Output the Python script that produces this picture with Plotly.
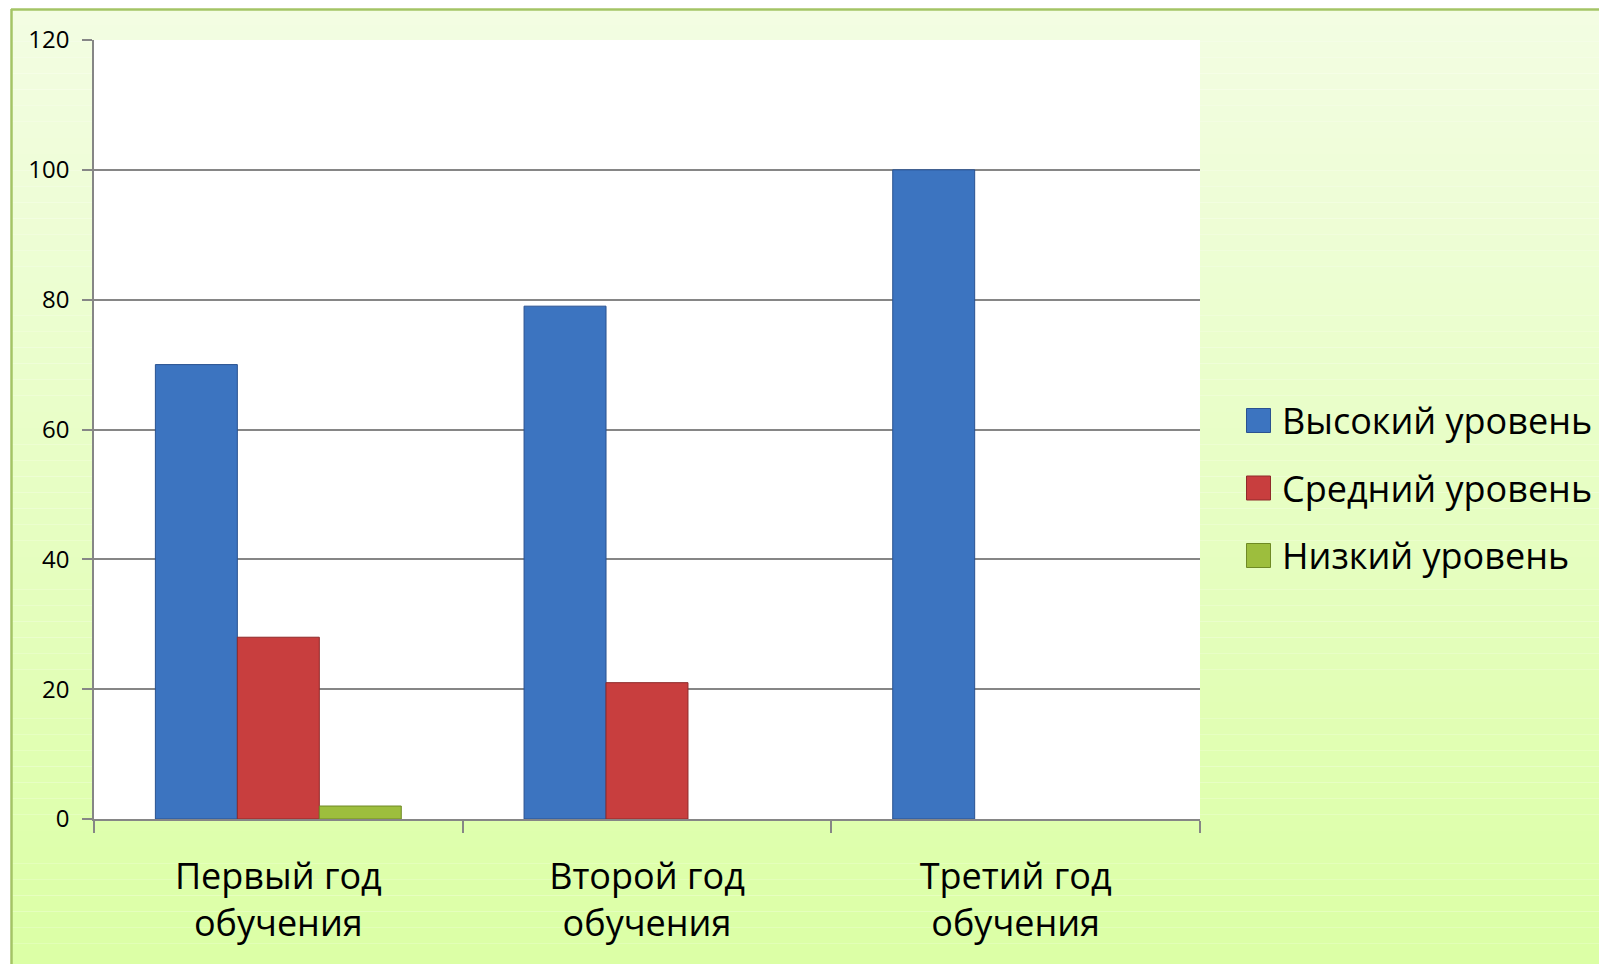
import plotly.graph_objects as go

categories = ["Первый год<br>обучения", "Второй год<br>обучения", "Третий год<br>обучения"]
series_names = ["Высокий уровень", "Средний уровень", "Низкий уровень"]
high = [70, 79, 100]
mid = [28, 21, 0]
low = [2, 0, 0]
y_ticks = [0, 20, 40, 60, 80, 100, 120]

colors = ["#3c74c0", "#c83e3e", "#9dbe3d"]
line_colors = ["#2a5290", "#8f2a2a", "#6f8a25"]

W, H = 1607, 964
OFF = 8  # page body margin offset
# target screen positions of the plot area
SL, SR, ST, SB = 94, 1200, 40, 819
L = SL - OFF
T = ST - OFF
R = W - (SR - OFF)
B = H - (SB - OFF)
PW, PH = W - L - R, H - T - B


def px2x(px):
    # px given in screen coordinates
    return (px - OFF - L) / PW


def px2y(py):
    return (H - B - (py - OFF)) / PH


fig = go.Figure()
for name, vals, c, lc in zip(series_names, [high, mid, low], colors, line_colors):
    fig.add_trace(go.Bar(
        x=categories, y=vals, name=name,
        marker=dict(color=c, line=dict(color=lc, width=[1 if v else 0 for v in vals])),
        showlegend=False,
    ))

shapes = []
# gradient background strips
top_rgb = (243, 253, 227)
bot_rgb = (219, 255, 164)
N = 60
y_top, y_bot = 9, H + 12
for i in range(N):
    t0 = i / N
    t1 = (i + 1) / N
    tm = (t0 + t1) / 2
    col = tuple(round(a + (b - a) * tm) for a, b in zip(top_rgb, bot_rgb))
    shapes.append(dict(
        type="rect", xref="paper", yref="paper",
        x0=px2x(11), x1=px2x(W + 12),
        y0=px2y(y_top + (y_bot - y_top) * t1), y1=px2y(y_top + (y_bot - y_top) * t0),
        fillcolor="rgb(%d,%d,%d)" % col, line=dict(width=0), layer="below",
    ))
# white plot area
shapes.append(dict(type="rect", xref="paper", yref="paper", x0=0, x1=1, y0=0, y1=1,
                   fillcolor="white", line=dict(width=0), layer="below"))
# outer border (top & left visible)
shapes.append(dict(type="line", xref="paper", yref="paper", x0=px2x(11), x1=px2x(W + 12),
                   y0=px2y(9.5), y1=px2y(9.5), line=dict(color="#a4c466", width=2.5), layer="below"))
shapes.append(dict(type="line", xref="paper", yref="paper", x0=px2x(11.5), x1=px2x(11.5),
                   y0=px2y(9), y1=px2y(H + 12), line=dict(color="#a4c466", width=2.5), layer="below"))

# manual legend
annotations = []
leg_centers = [420.5, 488, 555.5]
for name, c, lc, cy in zip(series_names, colors, line_colors, leg_centers):
    shapes.append(dict(type="rect", xref="paper", yref="paper",
                       x0=px2x(1246.5), x1=px2x(1270.5), y0=px2y(cy + 12), y1=px2y(cy - 12),
                       fillcolor=c, line=dict(color=lc, width=1), layer="above"))
    annotations.append(dict(xref="paper", yref="paper", x=px2x(1280), y=px2y(cy),
                            text=name, showarrow=False, xanchor="left", yanchor="middle",
                            font=dict(family="Open Sans", size=36, color="black")))

fig.update_layout(
    width=W, height=H,
    margin=dict(l=L, r=R, t=T, b=B, pad=0),
    paper_bgcolor="white", plot_bgcolor="white",
    barmode="group", bargap=0.333, bargroupgap=0,
    shapes=shapes, annotations=annotations,
    font=dict(family="Open Sans", color="black"),
    showlegend=False,
)
fig.update_xaxes(
    showline=True, linecolor="#868686", linewidth=1.5,
    ticks="outside", tickson="boundaries", ticklen=12, tickwidth=1.5, tickcolor="#868686",
    tickfont=dict(family="Open Sans", size=36, color="black"),
    ticklabelstandoff=25,
    showgrid=False,
)
fig.update_yaxes(
    range=[0, 120], tickvals=y_ticks, ticktext=[str(v) for v in y_ticks],
    showline=True, linecolor="#868686", linewidth=1.5,
    ticks="outside", ticklen=10, tickwidth=1.5, tickcolor="#868686",
    showgrid=True, gridcolor="#868686", gridwidth=1.5,
    tickfont=dict(family="Open Sans", size=24, color="black"),
    ticklabelstandoff=8, zeroline=False,
)

fig.write_html("out.html")
